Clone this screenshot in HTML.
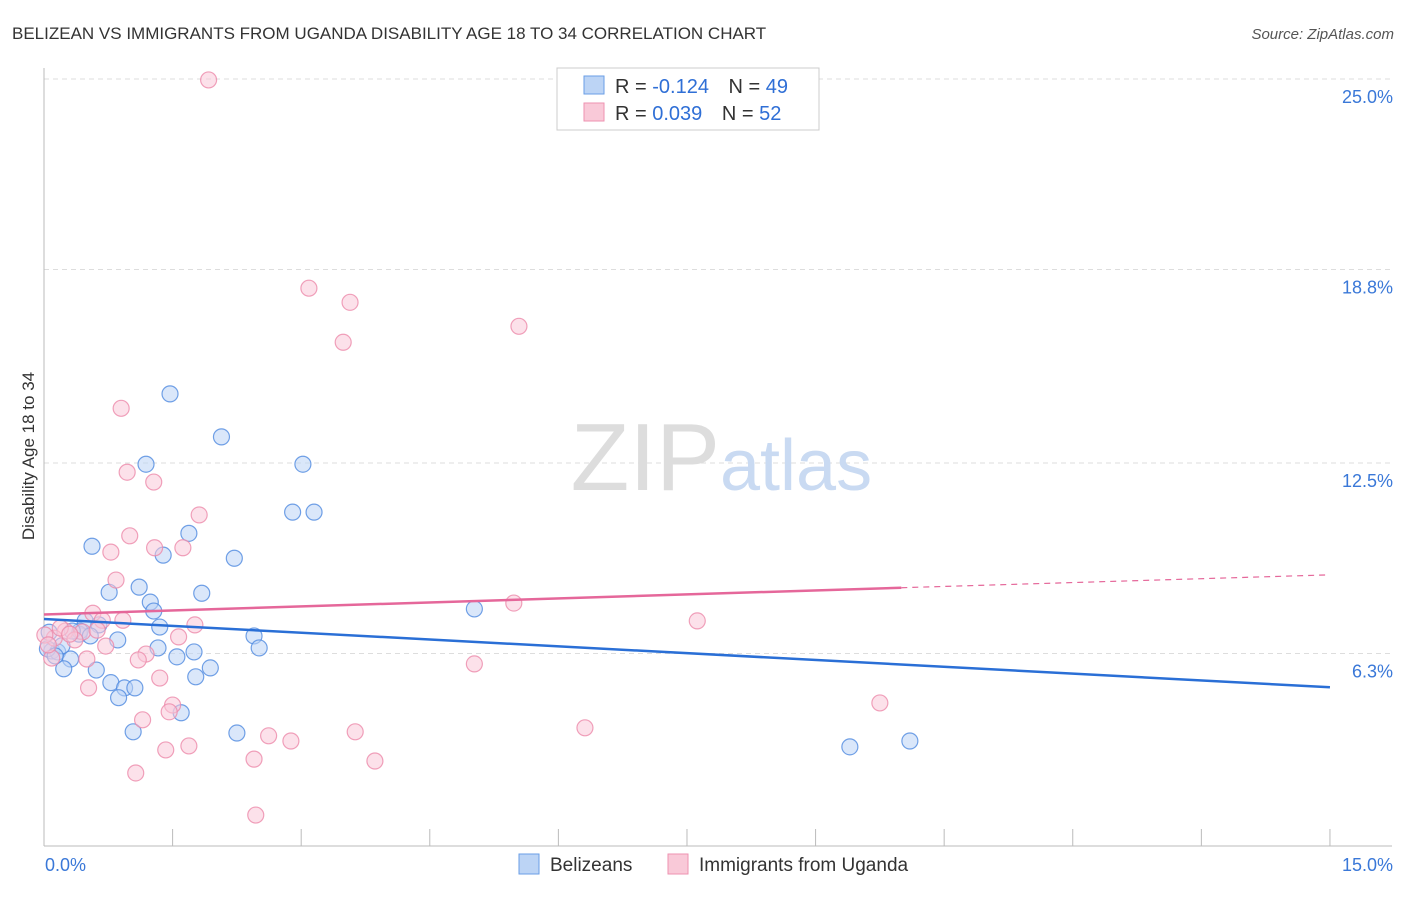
<!DOCTYPE html>
<html><head><meta charset="utf-8"><style>
body{margin:0;background:#fff;font-family:"Liberation Sans",sans-serif}
svg text{font-family:"Liberation Sans",sans-serif}
</style></head><body>
<svg id="c" width="1406" height="892">
<text x="12" y="39" font-size="17" fill="#333">BELIZEAN VS IMMIGRANTS FROM UGANDA DISABILITY AGE 18 TO 34 CORRELATION CHART</text>
<text x="1394" y="39" font-size="15" fill="#555" font-style="italic" text-anchor="end">Source: ZipAtlas.com</text>
<text x="34" y="456" font-size="17" fill="#333" text-anchor="middle" transform="rotate(-90 34 456)">Disability Age 18 to 34</text>
<g id="grid"></g>
<text x="720" y="490" font-size="96" fill="#ddd" font-family="Liberation Serif" text-anchor="end">ZIP</text>
<text x="720" y="490" font-size="72" fill="#c9daf2">atlas</text>
<g id="pts"></g>
<g id="lines"></g>
<g>
<rect x="557" y="68" width="262" height="62" fill="#fff" stroke="#ccc"/>
<rect x="584" y="76" width="20" height="18" fill="#bcd4f5" stroke="#6a9ee6"/>
<rect x="584" y="103" width="20" height="18" fill="#f9c9d8" stroke="#ee92b0"/>
<text x="615" y="93" font-size="20" fill="#333">R = <tspan fill="#2f6fd6">-0.124</tspan>  <tspan dx="14">N = </tspan><tspan fill="#2f6fd6">49</tspan></text>
<text x="615" y="120" font-size="20" fill="#333">R =  <tspan fill="#2f6fd6">0.039</tspan>  <tspan dx="14">N = </tspan><tspan fill="#2f6fd6">52</tspan></text>
</g>
<g>
<rect x="519" y="854" width="20" height="20" fill="#bcd4f5" stroke="#6a9ee6"/>
<text x="550" y="871" font-size="19" fill="#333">Belizeans</text>
<rect x="668" y="854" width="20" height="20" fill="#f9c9d8" stroke="#ee92b0"/>
<text x="699" y="871" font-size="19" fill="#333">Immigrants from Uganda</text>
</g>
</svg>
<script>
const yTicks=[25.0,18.8,12.5,6.3];
const yTickLabels=["25.0%","18.8%","12.5%","6.3%"];
const xTickLabels=["0.0%","15.0%"];
const blueX=[1.47,2.07,1.19,3.02,2.9,3.15,0.56,1.69,1.39,2.22,0.76,1.11,1.84,1.24,1.28,5.02,0.48,0.64,1.35,0.06,0.41,0.86,2.45,0.42,1.33,2.51,1.75,1.55,0.09,0.16,0.31,0.23,0.61,1.94,1.77,0.78,0.94,1.06,0.87,1.6,1.04,2.25,9.4,10.1,0.04,0.21,0.13,0.54,0.33];
const blueY=[14.75,13.35,12.46,12.46,10.9,10.9,9.79,10.21,9.5,9.4,8.29,8.46,8.26,7.97,7.68,7.75,7.36,7.23,7.16,6.99,6.93,6.74,6.87,7.03,6.48,6.48,6.35,6.19,6.38,6.35,6.12,5.8,5.76,5.83,5.54,5.35,5.18,5.18,4.86,4.37,3.75,3.71,3.26,3.45,6.45,6.55,6.22,6.87,7.03];
const pinkX=[1.92,3.09,3.57,5.54,3.49,0.9,0.97,1.28,1.81,1.0,1.62,1.29,0.78,0.84,5.48,0.57,0.92,0.68,1.76,7.62,0.25,0.45,0.12,1.57,0.01,0.72,1.19,1.1,0.5,5.02,0.09,1.35,0.52,9.75,1.5,1.46,1.15,6.31,3.63,2.62,2.88,1.69,1.42,2.45,3.86,1.07,2.47,0.62,0.19,0.36,0.3,0.05];
const pinkY=[24.97,18.19,17.73,16.95,16.43,14.28,12.2,11.88,10.81,10.13,9.74,9.74,9.6,8.69,7.94,7.61,7.38,7.38,7.23,7.36,7.03,7.0,6.8,6.84,6.9,6.54,6.28,6.09,6.12,5.96,6.15,5.5,5.18,4.69,4.62,4.4,4.14,3.88,3.75,3.62,3.45,3.29,3.16,2.86,2.8,2.41,1.04,7.06,7.13,6.74,6.93,6.58];
const blueTrend=[7.42,5.2]; const pinkTrend=[7.57,8.44,8.86]; const pinkSolidEnd=10.0;
const X=v=>44+v*85.73, Y=v=>79+(25-v)*30.72;
const NS='http://www.w3.org/2000/svg';
function mk(tag,attrs,parent){const e=document.createElementNS(NS,tag);for(const k in attrs)e.setAttribute(k,attrs[k]);document.getElementById(parent).appendChild(e);return e;}
yTicks.forEach((t,i)=>{
 const l=mk('line',{x1:44,x2:1392,y1:Y(t),y2:Y(t),stroke:'#ddd','stroke-dasharray':'5,4'},'grid');
 
 
 const tx=mk('text',{x:1393,y:Y(t)+24,'font-size':18,fill:'#3a78d8','text-anchor':'end'},'grid');tx.textContent=yTickLabels[i];
 
 
});
const ax=mk('line',{x1:44,x2:44,y1:68,y2:846,stroke:'#bbb'},'grid');


const bx=mk('line',{x1:44,x2:1392,y1:846,y2:846,stroke:'#bbb'},'grid');


for(let i=0;i<=10;i++){const t=mk('line',{x1:X(i*1.5),x2:X(i*1.5),y1:829,y2:846,stroke:'#bbb'},'grid');
 
 }
[[0,'start',45],[15,'end',1393]].forEach((d,i)=>{const t=mk('text',{x:d[2],y:871,'font-size':18,fill:'#3a78d8','text-anchor':d[1]},'grid');t.textContent=xTickLabels[i];
 
 });
function dots(xs,ys,fill,stroke,name){xs.forEach((x,i)=>{const c=mk('circle',{cx:X(x),cy:Y(ys[i]),r:8,fill:fill,'fill-opacity':0.55,stroke:stroke,'stroke-opacity':0.8,'stroke-width':1.2},'pts');
 
 });}
dots(blueX,blueY,'#bcd4f5','#4f8ae0','belizean-point');
dots(pinkX,pinkY,'#f9c9d8','#ec8aaa','uganda-point');
const b=mk('line',{x1:X(0),y1:Y(blueTrend[0]),x2:X(15),y2:Y(blueTrend[1]),stroke:'#2a6fd6','stroke-width':2.5},'lines');


const p=mk('line',{x1:X(0),y1:Y(pinkTrend[0]),x2:X(pinkSolidEnd),y2:Y(pinkTrend[1]),stroke:'#e5679a','stroke-width':2.5},'lines');


const pd=mk('line',{x1:X(pinkSolidEnd),y1:Y(pinkTrend[1]),x2:X(15),y2:Y(pinkTrend[2]),stroke:'#e5679a','stroke-width':1.2,'stroke-dasharray':'6,5'},'lines');


</script>
</body></html>
